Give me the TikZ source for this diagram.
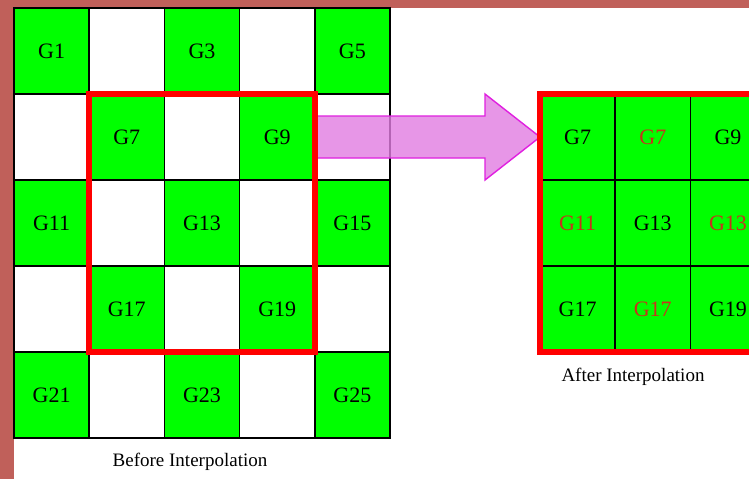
\documentclass[tikz,border=0pt]{standalone}
\usepackage{fontspec}
\setmainfont{Liberation Serif}
\usetikzlibrary{calc,positioning}
\definecolor{frame}{HTML}{C0605A}
\definecolor{cellgreen}{HTML}{00FF00}
\definecolor{boxred}{HTML}{FF0000}
\definecolor{newred}{HTML}{C8321E}
\definecolor{arrowpink}{HTML}{E27CE2}
\definecolor{arrowline}{HTML}{E020E0}
\begin{document}
\begin{tikzpicture}[x=0.5pt,y=-0.5pt,
  every node/.style={font=\fontsize{11}{13}\selectfont},
  cell/.style={draw=black,line width=.75pt,minimum width=37.6pt,minimum height=43pt,inner sep=0pt,outer sep=0pt},
  redbox/.style={draw=boxred,line width=2.8pt},
  caption/.style={font=\fontsize{9.5}{11}\selectfont}]
\useasboundingbox (0,0) rectangle (749,479);
\clip (0,0) rectangle (749,479);
\fill[frame] (0,0) rectangle (749,479);
\fill[white] (14,8) rectangle (749,479);
% before: 5x5 grid, odd cells are green
\foreach \r in {0,...,4}
  \foreach \c in {0,...,4} {
    \pgfmathtruncatemacro\n{5*\r+\c+1}
    \ifodd\n
      \node[cell,fill=cellgreen] (g\n) at (51.6+75.2*\c,51+86*\r) {G\n};
    \else
      \node[cell,fill=white] (g\n) at (51.6+75.2*\c,51+86*\r) {};
    \fi
  }
% after: 3x3 grid, red labels are interpolated
\foreach \t/\col [count=\i from 0] in {G7/black,G7/newred,G9/black,G11/newred,G13/black,G13/newred,G17/black,G17/newred,G19/black} {
  \pgfmathtruncatemacro\c{mod(\i,3)}
  \pgfmathtruncatemacro\r{div(\i,3)}
  \node[cell,fill=cellgreen,text=\col] (h\i) at (577.6+75.2*\c,137+86*\r) {\t};
}
\coordinate (tail) at (g9.east);
\coordinate (tip) at (h0.west);
\draw[arrowline,line width=.7pt,fill=arrowpink,fill opacity=.8]
  ($(tail)+(0,-21)$) -- ($(tip)+(-55,-21)$) -- ($(tip)+(-55,-43)$) -- (tip)
  -- ($(tip)+(-55,43)$) -- ($(tip)+(-55,21)$) -- ($(tail)+(0,21)$) -- cycle;
\draw[redbox] (g7.north west) rectangle (g19.south east);
\draw[redbox] (h0.north west) rectangle (h8.south east);
\node[caption] (before) at (190,462) {Before Interpolation};
\node[caption] (after) at (633,377) {After Interpolation};
\end{tikzpicture}
\end{document}
